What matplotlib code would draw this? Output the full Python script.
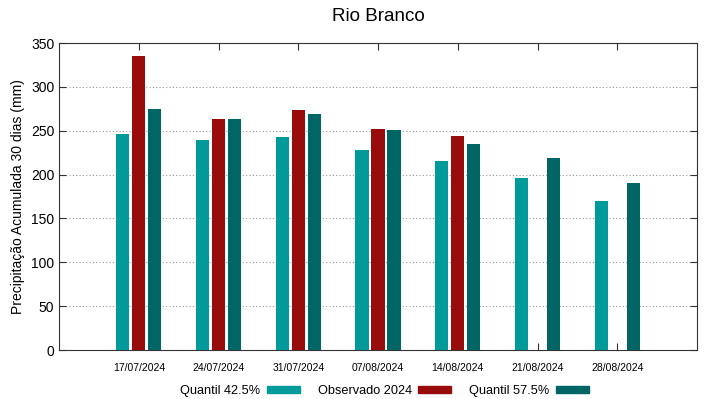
import numpy as np
import matplotlib
matplotlib.use("Agg")
import matplotlib.pyplot as plt
from matplotlib.patches import Patch

plt.rcParams['font.family'] = ['Liberation Sans', 'DejaVu Sans']

datas = ["17/07/2024", "24/07/2024", "31/07/2024", "07/08/2024",
         "14/08/2024", "21/08/2024", "28/08/2024"]
q425 = [246, 239, 243, 228, 215, 196, 170]
obs2024 = [335, 263, 274, 252, 244, np.nan, np.nan]
q575 = [275, 263, 269, 251, 235, 219, 190]

cor_q425 = "#009a9a"
cor_obs = "#990c0c"
cor_q575 = "#006565"

fig = plt.figure(figsize=(7.19, 3.99), dpi=100)
ax = fig.add_axes([0.0821, 0.1228, 0.8873, 0.7694])

x = np.arange(1, len(datas) + 1)
w = 0.165
ax.bar(x - 0.2, q425, w, color=cor_q425, zorder=3)
ax.bar(x, obs2024, w, color=cor_obs, zorder=3)
ax.bar(x + 0.2, q575, w, color=cor_q575, zorder=3)

ax.set_xlim(0, 8)
ax.set_ylim(0, 350)
ax.set_xticks(x)
ax.set_xticklabels(datas, fontsize=7.5)
ax.set_yticks(range(0, 351, 50))
ax.tick_params(axis='y', labelsize=10)
ax.tick_params(direction='in', top=True, right=True, length=5, color='#333333')
ax.tick_params(axis='x', pad=9)
for s in ax.spines.values():
    s.set_color('#333333')
for yv in range(50, 350, 50):
    ax.axhline(yv, color='#999999', lw=0.8, ls=(0, (1, 2)), zorder=1)

ax.set_ylabel("Precipitação Acumulada 30 dias (mm)", fontsize=10)
ax.set_title("Rio Branco", fontsize=13.5, pad=15.5)

handles = [Patch(color=cor_q425), Patch(color=cor_obs), Patch(color=cor_q575)]
labels = ["Quantil 42.5%", "Observado 2024", "Quantil 57.5%"]
fig.legend(handles, labels, loc='lower center', bbox_to_anchor=(0.535, -0.025),
           ncol=3, frameon=False, markerfirst=False, fontsize=9.2,
           handlelength=2.6, handleheight=0.45, handletextpad=0.5,
           columnspacing=1.4)

fig.savefig("out.png", dpi=100)
